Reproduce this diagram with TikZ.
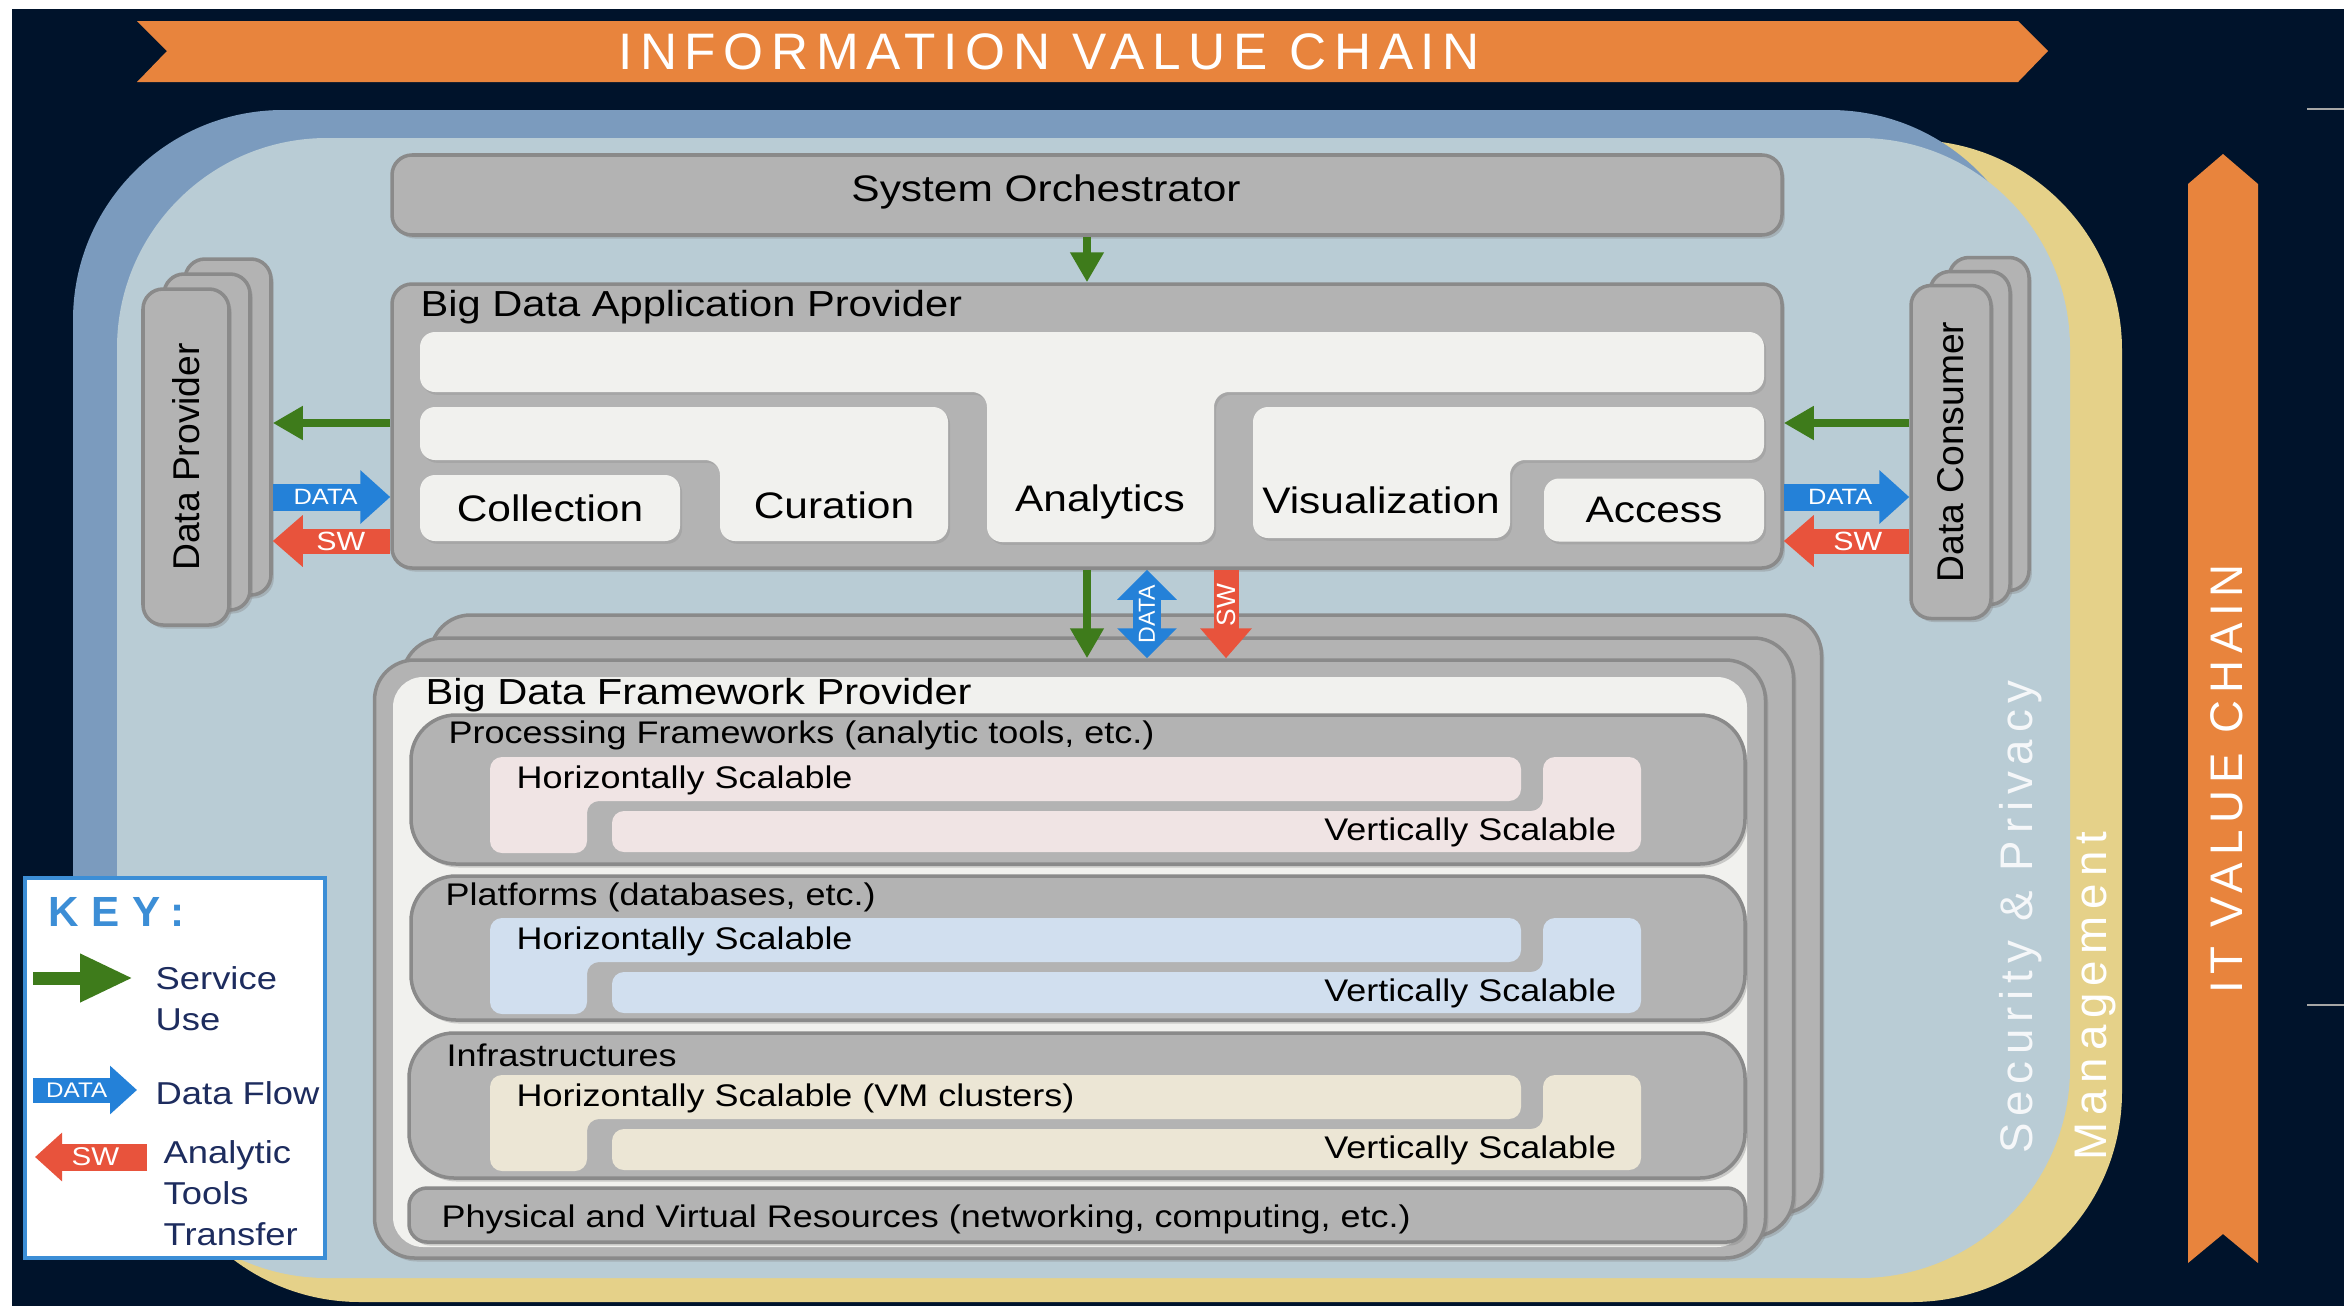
\documentclass[tikz,border=0pt]{standalone}
\usepackage{fontspec}
\setmainfont{Liberation Sans}
\newfontfamily\widefont[FakeStretch=1.15]{Liberation Sans}
\newfontfamily\trackfont[LetterSpace=15]{Liberation Sans}
\newfontfamily\keyfont[LetterSpace=30]{Liberation Sans}
\usepackage{xcolor}
\usepackage{tikz}
\usetikzlibrary{arrows.meta, positioning, shapes, shadows, calc}

\definecolor{navybg}{HTML}{00132B}
\definecolor{bandorange}{HTML}{E8843D}
\definecolor{outerblue}{HTML}{7B9BBE}
\definecolor{innerblue}{HTML}{B9CCD5}
\definecolor{mgmtyellow}{HTML}{E5D189}
\definecolor{boxgray}{HTML}{B3B3B3}
\definecolor{edgegray}{HTML}{8A8A8A}
\definecolor{tabwhite}{HTML}{F1F1EE}
\definecolor{svcgreen}{HTML}{3E7B1B}
\definecolor{datablue}{HTML}{2481D8}
\definecolor{swred}{HTML}{E8533C}
\definecolor{keyblue}{HTML}{3C8ED6}
\definecolor{keytext}{HTML}{1D2C5E}
\definecolor{procpink}{HTML}{F0E4E4}
\definecolor{platblue}{HTML}{D1DFEF}
\definecolor{infrabeige}{HTML}{ECE6D5}

\tikzset{
  graybox/.style={draw=edgegray, line width=1pt, fill=boxgray, rounded corners=2mm, inner sep=0pt,
    drop shadow={opacity=0.35, shadow xshift=0.8pt, shadow yshift=-1pt}},
  tabbox/.style={fill=tabwhite, rounded corners=1.5mm,
    drop shadow={opacity=0.25, shadow xshift=0.6pt, shadow yshift=-0.8pt}},
  boxtitle/.style={font=\widefont\fontsize{10.3}{12}\selectfont, inner sep=0pt, anchor=west},
  sublabel/.style={font=\widefont\fontsize{8.9}{10}\selectfont, inner sep=0pt},
  tablabel/.style={font=\widefont\fontsize{10.5}{12}\selectfont, inner sep=0pt},
  vlabel/.style={rotate=90, font=\fontsize{10.6}{12}\selectfont, inner sep=0pt},
  svc/.style={draw=svcgreen, line width=0.8mm, -{Triangle[length=3mm, width=3.2mm]}},
  dataflow/.style={draw=datablue, line width=2.7mm, -{Triangle[length=3mm, width=5.2mm]}},
  databoth/.style={draw=datablue, line width=2.8mm,
    {Triangle[length=3mm, width=5.8mm]}-{Triangle[length=3mm, width=5.8mm]}},
  swflow/.style={draw=swred, line width=2.5mm, -{Triangle[length=3mm, width=5mm]}},
  flowtext/.style={text=white, inner sep=0pt, font=\widefont\fontsize{6.3}{7}\selectfont},
  keytxt/.style={text=keytext, anchor=west, align=left, inner sep=0pt, font=\widefont\fontsize{9}{11.7}\selectfont},
}

\begin{document}
\begin{tikzpicture}[x=0.1mm, y=-0.1mm]
  \useasboundingbox (0,0) rectangle (2344,1306);

  % Background
  \fill[white] (0,0) rectangle (2344,1306);
  \fill[navybg] (12,9) rectangle (2344,1306);
  \draw[gray!70, line width=0.6pt] (2307,109) -- (2344,109);
  \draw[gray!70, line width=0.6pt] (2307,1005) -- (2344,1005);

  % Value chain banners
  \fill[bandorange] (137,21) -- (2018,21) -- (2048,51) -- (2018,82) -- (137,82) -- (167,51) -- cycle;
  \node[text=white, font=\trackfont\fontsize{14.6}{14}\selectfont] (ivc) at (1049,52) {INFORMATION VALUE CHAIN};
  \fill[bandorange] (2188,184) -- (2223,154) -- (2258,184) -- (2258,1263) -- (2223,1234) -- (2188,1263) -- cycle;
  \node[rotate=90, text=white, font=\trackfont\fontsize{13}{13}\selectfont] (itvc) at (2227,779) {IT VALUE CHAIN};

  % Management, outer and inner panels
  \fill[mgmtyellow, rounded corners=21mm] (150,140) rectangle (2122,1302);
  \fill[outerblue, rounded corners=21mm] (73,110) rectangle (2040,1240);
  \fill[innerblue, rounded corners=21mm] (117,138) rectangle (2070,1278);
  \node[rotate=90, text=white!85!innerblue, font=\trackfont\fontsize{13}{13}\selectfont] (secpriv) at (2021,917) {Security \& Privacy};
  \node[rotate=90, text=white, font=\trackfont\fontsize{13}{13}\selectfont] (mgmt) at (2096,996) {Management};

  % System Orchestrator
  \node[graybox, minimum width=139mm, minimum height=8mm] (orch) at (1087,195) {};
  \node[tablabel] (orchlbl) at (1046,192) {System Orchestrator};

  % Big Data Application Provider
  \node[graybox, minimum width=139mm, minimum height=28.4mm] (app) at (1087,426) {};
  \node[boxtitle] (apptitle) at (420,307) {Big Data Application Provider};
  \fill[tabbox] (420,332) -- (1764,332) -- (1764,392) -- (1214,392) -- (1214,542) -- (987,542) -- (987,392) -- (420,392) -- cycle;
  \fill[tabbox] (420,407) -- (948,407) -- (948,541) -- (720,541) -- (720,460) -- (420,460) -- cycle;
  \fill[tabbox] (1253,407) -- (1764,407) -- (1764,460) -- (1510,460) -- (1510,538) -- (1253,538) -- cycle;
  \node[tabbox, minimum width=26mm, minimum height=6.6mm, tablabel] (coll) at (550,508) {Collection};
  \node[tabbox, minimum width=22mm, minimum height=6.3mm, tablabel] (acc) at (1654,510) {Access};
  \node[tablabel] (cur) at (834,505) {Curation};
  \node[tablabel] (ana) at (1100,502) {Analytics};
  \node[tablabel] (vis) at (1381,500) {Visualization};

  % Data Provider and Data Consumer stacks
  \foreach \i/\dx/\dy in {2/42/30, 1/21/15, 0/0/0}
    \node[graybox, minimum width=8.6mm, minimum height=33.6mm] (dp\i) at (186+\dx,457-\dy) {};
  \node[vlabel] (dplbl) at (dp0.center) {Data Provider};
  \foreach \i/\dx/\dy in {2/38/28, 1/19/14, 0/0/0}
    \node[graybox, minimum width=8mm, minimum height=33.3mm] (dc\i) at (1951+\dx,452-\dy) {};
  \node[vlabel] (dclbl) at (dc0.center) {Data Consumer};

  % Big Data Framework Provider stack
  \foreach \i/\dx/\dy in {2/56/45, 1/28/22, 0/0/0}
    \node[graybox, rounded corners=4mm, minimum width=139.1mm, minimum height=59.8mm] (fw\i) at (1070+\dx,959-\dy) {};
  \node[fill=tabwhite, rounded corners=3mm, minimum width=135.4mm, minimum height=57mm, inner sep=0pt] (fwin) at (1070,962) {};
  \node[boxtitle] (fwtitle) at (425,695) {Big Data Framework Provider};

  % Framework layers
  \node[graybox, rounded corners=4.5mm, minimum width=133.4mm, minimum height=14.9mm] (proc) at (1078,789.5) {};
  \node[graybox, rounded corners=4.5mm, minimum width=133.4mm, minimum height=14.4mm] (plat) at (1078,948) {};
  \node[graybox, rounded corners=4.5mm, minimum width=133.6mm, minimum height=14.5mm] (infra) at (1077,1105.5) {};
  \node[graybox, rounded corners=1.8mm, minimum width=133.6mm, minimum height=5.4mm] (phys) at (1077,1215) {};
  \node[sublabel, anchor=west] (proctitle) at (448,735) {Processing Frameworks (analytic tools, etc.)};
  \node[sublabel, anchor=west] (plattitle) at (445,897) {Platforms (databases, etc.)};
  \node[sublabel, anchor=west] (infratitle) at (446,1055) {Infrastructures};
  \node[sublabel, anchor=west] (physlbl) at (441,1219) {Physical and Virtual Resources (networking, computing, etc.)};

  % Horizontal and vertical scaling bands
  \foreach \name/\T/\col/\htext in {proc/715/procpink/{Horizontally Scalable}, plat/876/platblue/{Horizontally Scalable}, infra/1033/infrabeige/{Horizontally Scalable (VM clusters)}} {
    \fill[\col, rounded corners=1.2mm] (490,\T+42) -- (1521,\T+42) -- (1521,\T+86) -- (587,\T+86) -- (587,\T+138) -- (490,\T+138) -- cycle;
    \fill[\col, rounded corners=1.2mm] (1543,\T+42) -- (1641,\T+42) -- (1641,\T+137) -- (612,\T+137) -- (612,\T+96) -- (1543,\T+96) -- cycle;
    \node[sublabel, anchor=west] (\name-h) at (516,\T+65) {\htext};
    \node[sublabel, anchor=east] (\name-v) at (1617,\T+117) {Vertically Scalable};
  }

  % Service use arrows
  \coordinate (ysvc) at (0,423);
  \coordinate (ydata) at (0,497);
  \coordinate (ysw) at (0,541);
  \coordinate (xdata) at (1147,0);
  \coordinate (xsw) at (1226,0);
  \draw[svc] (orch.south) -- (app.north);
  \draw[svc] (app.south) -- (app.south |- fw0.north);
  \draw[svc] (app.west |- ysvc) -- (dp2.east |- ysvc);
  \draw[svc] (dc0.west |- ysvc) -- (app.east |- ysvc);

  % Data and software flows
  \draw[dataflow] (dp2.east |- ydata) -- (app.west |- ydata) node[pos=0.45, flowtext] {DATA};
  \draw[swflow] (app.west |- ysw) -- (dp2.east |- ysw) node[pos=0.42, flowtext, font=\widefont\fontsize{7.5}{8}\selectfont] {SW};
  \draw[dataflow] (app.east |- ydata) -- (dc0.west |- ydata) node[pos=0.45, flowtext] {DATA};
  \draw[swflow] (dc0.west |- ysw) -- (app.east |- ysw) node[pos=0.41, flowtext, font=\widefont\fontsize{7.5}{8}\selectfont] {SW};
  \draw[databoth] (xdata |- fw0.north) -- (xdata |- app.south) node[midway, flowtext, rotate=90, font=\fontsize{6.6}{7}\selectfont] {DATA};
  \draw[swflow] (xsw |- app.south) -- (xsw |- fw0.north) node[pos=0.4, flowtext, rotate=90, font=\fontsize{7.5}{8}\selectfont] {SW};

  % Key
  \node[draw=keyblue, line width=1.1pt, fill=white, minimum width=30mm, minimum height=38mm, inner sep=0pt] (key) at (175,1068) {};
  \node[anchor=west, inner sep=0pt, text=keyblue, font=\keyfont\bfseries\fontsize{12}{12}\selectfont] (keytitle) at (48,912) {KEY:};
  \coordinate (ksvcA) at (33,978);
  \coordinate (ksvcB) at (133,978);
  \coordinate (kdataA) at (33,1090);
  \coordinate (kdataB) at (137,1090);
  \coordinate (kswA) at (147,1157);
  \coordinate (kswB) at (35,1157);
  \draw[svc, line width=1.3mm, -{Triangle[length=5.3mm, width=4.5mm]}] (ksvcA) -- (ksvcB);
  \draw[dataflow, line width=2.5mm, -{Triangle[length=2.7mm, width=4.7mm]}] (kdataA) -- (kdataB) node[pos=0.42, flowtext, font=\widefont\fontsize{6}{7}\selectfont] {DATA};
  \draw[swflow, line width=2.7mm, -{Triangle[length=2.7mm, width=4.7mm]}] (kswA) -- (kswB) node[pos=0.46, flowtext, font=\widefont\fontsize{7.3}{8}\selectfont] {SW};
  \node[keytxt, anchor=north west] (ksvc) at (155,966) {Service\\Use};
  \node[keytxt] (kdata) at (155,1093) {Data Flow};
  \node[keytxt, anchor=north west] (ksw) at (163,1140) {Analytic\\Tools\\Transfer};
\end{tikzpicture}
\end{document}
